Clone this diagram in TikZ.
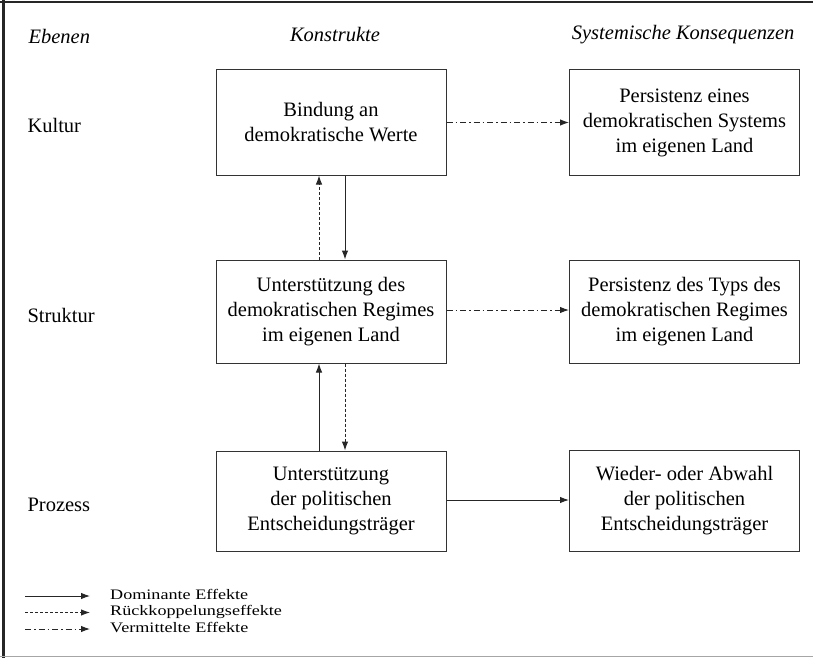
\documentclass[tikz,border=0pt]{standalone}
\usepackage{fontspec}
\setmainfont{Liberation Serif}
\newfontfamily\legfont[FakeStretch=1.25]{Liberation Serif}
\usetikzlibrary{arrows.meta}
\tikzset{
  box/.style={draw=black!80, line width=1pt, minimum width=230pt, minimum height=103pt, align=center, inner sep=0pt, font=\fontsize{20.5}{25}\selectfont},
  lvl/.style={anchor=west, font=\fontsize{20.5}{24}\selectfont},
  hdr/.style={font=\fontsize{20.5}{24}\selectfont\itshape},
  conn/.style={line width=1pt, draw=black!85, -{Latex[length=9pt,width=6.5pt]}},
  dominant/.style={conn},
  feedback/.style={conn, dash pattern=on 3pt off 2pt},
  mediated/.style={conn, dash pattern=on 6pt off 3pt on 1.5pt off 3pt},
  legtxt/.style={anchor=west, inner sep=0pt, text height=9pt, text depth=3pt, font=\legfont\fontsize{14.5}{16}\selectfont}
}
\begin{document}
\begin{tikzpicture}[x=1pt,y=-1pt]
\useasboundingbox (0,0) rectangle (813,658);
% frame
\draw[line width=3pt, black!85] (3,0) -- (3,658);
\draw[line width=2.5pt, black!85] (0,2) -- (813,2);
\draw[line width=1.5pt, black!35] (0,656.5) -- (813,656.5);
% headers
\node[hdr, anchor=west] (hE) at (25,36) {Ebenen};
\node[hdr] (hK) at (335,35) {Konstrukte};
\node[hdr, anchor=east] (hS) at (798,35) {Systemische Konsequenzen};
% levels
\node[lvl] (lK) at (24,125) {Kultur};
\node[lvl] (lS) at (24,315) {Struktur};
\node[lvl] (lP) at (24,505) {Prozess};
% boxes
\node[box, minimum height=105pt] (b1) at (331,122.5) {Bindung an\\demokratische Werte};
\node[box] (b2) at (331,311.5) {Unterstützung des\\demokratischen Regimes\\im eigenen Land};
\node[box, minimum height=100pt] (b3) at (331,501) {Unterstützung\\der politischen\\Entscheidungsträger};
\node[box, minimum height=105pt] (r1) at (684.5,122.5) {Persistenz eines\\demokratischen Systems\\im eigenen Land};
\node[box] (r2) at (684.5,312) {Persistenz des Typs des\\demokratischen Regimes\\im eigenen Land};
\node[box, minimum height=101pt] (r3) at (684.5,500.5) {Wieder- oder Abwahl\\der politischen\\Entscheidungsträger};
% vertical connectors
\draw[feedback] ([xshift=-12pt]b2.north) -- ([xshift=-12pt]b1.south);
\draw[dominant] ([xshift=14pt]b1.south) -- ([xshift=14pt]b2.north);
\draw[dominant] ([xshift=-12pt]b3.north) -- ([xshift=-12pt]b2.south);
\draw[feedback] ([xshift=14pt]b2.south) -- ([xshift=14pt]b3.north);
% horizontal connectors
\draw[mediated] (b1.east) -- (r1.west);
\draw[mediated] ([yshift=1.5pt]b2.east) -- ([yshift=1.5pt]b2.east -| r2.west);
\draw[dominant] ([yshift=1pt]b3.east) -- ([yshift=1pt]b3.east -| r3.west);
% legend
\coordinate (l1a) at (25,596); \coordinate (l1b) at (90,596);
\coordinate (l2a) at (25,612.5); \coordinate (l2b) at (90,612.5);
\coordinate (l3a) at (25,629); \coordinate (l3b) at (90,629);
\draw[dominant] (l1a) -- (l1b);
\draw[feedback] (l2a) -- (l2b);
\draw[mediated] (l3a) -- (l3b);
\node[legtxt] (t1) at (110,596) {Dominante Effekte};
\node[legtxt] (t2) at (110,612.5) {Rückkoppelungseffekte};
\node[legtxt] (t3) at (110,629) {Vermittelte Effekte};
\end{tikzpicture}
\end{document}
